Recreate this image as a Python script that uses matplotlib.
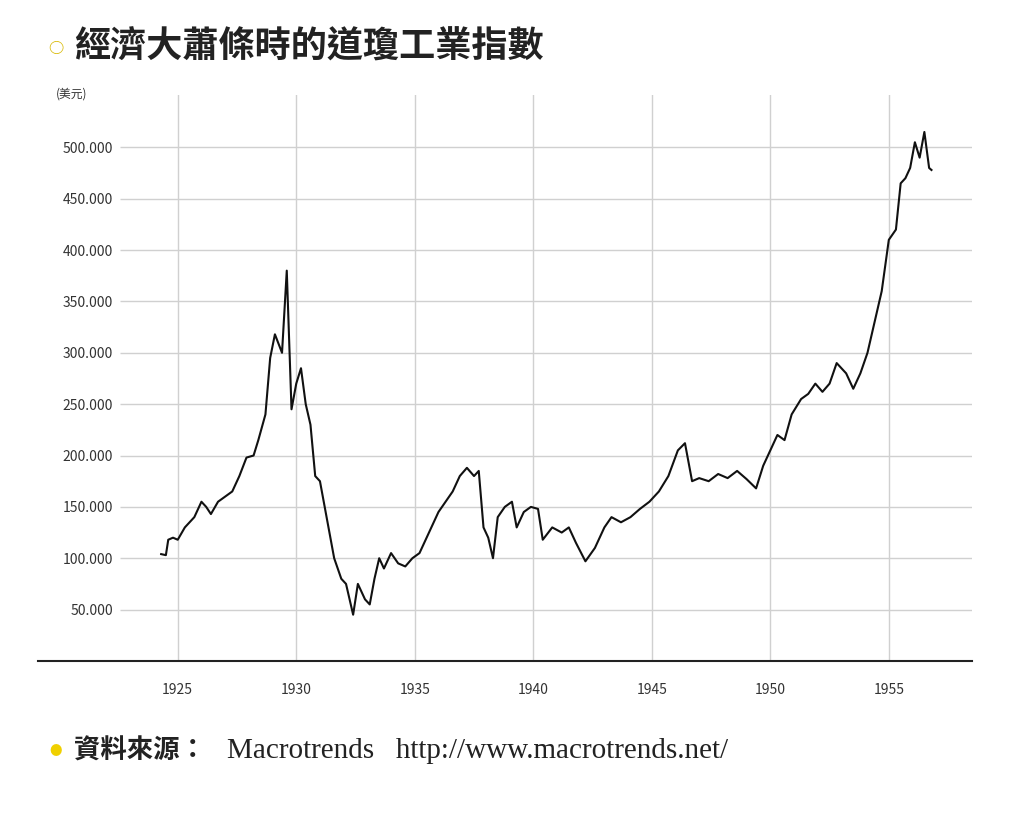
import matplotlib
matplotlib.use("Agg")
import matplotlib.pyplot as plt

plt.rcParams['font.family'] = ['Noto Sans CJK TC', 'DejaVu Sans']

years = [1924.3, 1924.5, 1924.6, 1924.8, 1925.0, 1925.3, 1925.7, 1926.0, 1926.2, 1926.4,
         1926.7, 1927.0, 1927.3, 1927.6, 1927.9, 1928.2, 1928.4, 1928.7, 1928.9, 1929.1,
         1929.4, 1929.6, 1929.8, 1930.0, 1930.2, 1930.4, 1930.6, 1930.8, 1931.0, 1931.2,
         1931.4, 1931.6, 1931.9, 1932.1, 1932.4, 1932.6, 1932.9, 1933.1, 1933.3, 1933.5,
         1933.7, 1934.0, 1934.3, 1934.6, 1934.9, 1935.2, 1935.6, 1936.0, 1936.3, 1936.6,
         1936.9, 1937.2, 1937.5, 1937.7, 1937.9, 1938.1, 1938.3, 1938.5, 1938.8, 1939.1,
         1939.3, 1939.6, 1939.9, 1940.2, 1940.4, 1940.8, 1941.2, 1941.5, 1941.8, 1942.2,
         1942.6, 1943.0, 1943.3, 1943.7, 1944.1, 1944.5, 1944.9, 1945.3, 1945.7, 1946.1,
         1946.4, 1946.7, 1947.0, 1947.4, 1947.8, 1948.2, 1948.6, 1949.0, 1949.4, 1949.7,
         1950.0, 1950.3, 1950.6, 1950.9, 1951.3, 1951.6, 1951.9, 1952.2, 1952.5, 1952.8,
         1953.2, 1953.5, 1953.8, 1954.1, 1954.4, 1954.7, 1955.0, 1955.3, 1955.5, 1955.7,
         1955.9, 1956.1, 1956.3, 1956.5, 1956.7, 1956.8]
dow = [104, 103, 118, 120, 118, 130, 140, 155, 150, 143,
       155, 160, 165, 180, 198, 200, 215, 240, 295, 318,
       300, 380, 245, 270, 285, 250, 230, 180, 175, 150,
       125, 100, 80, 75, 45, 75, 60, 55, 80, 100,
       90, 105, 95, 92, 100, 105, 125, 145, 155, 165,
       180, 188, 180, 185, 130, 120, 100, 140, 150, 155,
       130, 145, 150, 148, 118, 130, 125, 130, 115, 97,
       110, 130, 140, 135, 140, 148, 155, 165, 180, 205,
       212, 175, 178, 175, 182, 178, 185, 177, 168, 190,
       205, 220, 215, 240, 255, 260, 270, 262, 270, 290,
       280, 265, 280, 300, 330, 360, 410, 420, 465, 470,
       480, 505, 490, 515, 480, 478]

x_ticks = [1925, 1930, 1935, 1940, 1945, 1950, 1955]
y_ticks = [50, 100, 150, 200, 250, 300, 350, 400, 450, 500]
y_labels = ["50.000", "100.000", "150.000", "200.000", "250.000", "300.000",
            "350.000", "400.000", "450.000", "500.000"]

fig = plt.figure(figsize=(10.24, 8.19), dpi=100)
ax = fig.add_axes([0.037, 0.193, 0.912, 0.691])
ax.set_xlim(1919.1, 1958.5)
ax.set_ylim(0, 551)

for v in x_ticks:
    ax.axvline(v, color="#d0d0d0", lw=1.0, zorder=0)
ax.hlines(y_ticks, 0.088, 1.0, transform=ax.get_yaxis_transform(),
          color="#d0d0d0", lw=1.0, zorder=0)
ax.plot(years, dow, color="#111111", lw=1.5)

for s in ["top", "right", "left"]:
    ax.spines[s].set_visible(False)
ax.spines["bottom"].set_linewidth(1.5)
ax.spines["bottom"].set_color("#222222")
ax.set_xticks(x_ticks)
ax.set_xticklabels([str(v) for v in x_ticks], fontsize=10, color="#333333")
ax.tick_params(axis="x", length=0, pad=16)
ax.set_yticks(y_ticks)
ax.set_yticklabels(y_labels, fontsize=10, color="#333333")
ax.tick_params(axis="y", length=0, pad=-54)
ax.text(0.019, 0.995, "(美元)", transform=ax.transAxes, fontsize=8.5, color="#333333")

fig.text(0.047, 0.942, "○", fontsize=11, color="#d8b800", va="center", fontweight="bold")
fig.text(0.072, 0.942, "經濟大蕭條時的道瓊工業指數", fontsize=26, color="#222222",
         va="center", fontweight="bold")
fig.text(0.048, 0.083, "●", fontsize=9, color="#f0d000", va="center")
fig.text(0.072, 0.083, "資料來源：", fontsize=19, color="#222222", va="center",
         fontweight="bold")
fig.text(0.222, 0.083, "Macrotrends   http://www.macrotrends.net/", fontsize=21,
         color="#222222", va="center", family=["Liberation Serif"])

fig.savefig("out.png", dpi=100)
